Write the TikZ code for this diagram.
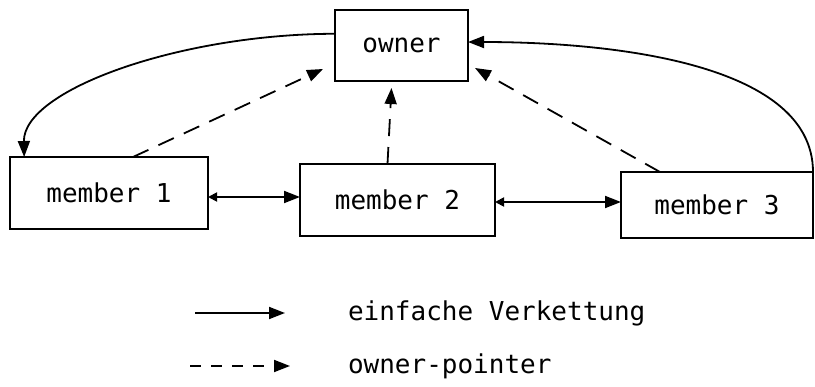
\documentclass[tikz,border=0pt]{standalone}
\usepackage{fontspec}
\setmonofont{DejaVu Sans Mono}
\usetikzlibrary{arrows.meta,calc}

\begin{document}
\begin{tikzpicture}[x=1pt, y=-1pt, >={Triangle[length=16pt,width=12pt]},
  every node/.style={draw, line width=1.8pt, inner sep=0pt, outer sep=0pt, font=\ttfamily\fontsize{26}{30}\selectfont},
  kette/.style={line width=1.8pt, ->},
  zeiger/.style={kette, dash pattern=on 17pt off 11pt},
  legende/.style={draw=none, anchor=west}]
\useasboundingbox (0,0) rectangle (815,387);

\node[minimum width=133pt, minimum height=71pt] (owner) at (401.5,45.5) {owner};
\node[minimum width=198pt, minimum height=72pt] (m1) at (109,193) {member 1};
\node[minimum width=195pt, minimum height=72pt] (m2) at (397.5,200) {member 2};
\node[minimum width=192pt, minimum height=66pt] (m3) at (717,205) {member 3};

% einfache Verkettung
\draw[kette, {Triangle[length=9pt,width=9pt]}->] ([yshift=-4pt]m1.east) -- ([yshift=-4pt]m1.east -| m2.west);
\draw[kette, {Triangle[length=9pt,width=9pt]}->] ([yshift=-2pt]m2.east) -- ([yshift=-2pt]m2.east -| m3.west);
\draw[kette] (owner.170) .. controls (180,34) and (23,90) .. (m1.157);
\draw[kette] (m3.north east) .. controls (813,60) and (600,42) .. (owner.3);

% owner-pointer
\draw[zeiger] ([xshift=24pt]m1.north) -- ($(owner.south west)+(-12,-12)$);
\draw[zeiger] ([xshift=-10pt]m2.north) -- ([xshift=-10pt,yshift=-7pt]owner.south);
\draw[zeiger] ([xshift=-57pt]m3.north) -- ($(owner.south east)+(7,-13)$);

% Legende
\coordinate (k1) at (195,313);
\coordinate (k2) at (285,313);
\coordinate (z1) at (190,366);
\coordinate (z2) at (290,366);
\draw[kette] (k1) -- (k2);
\draw[zeiger, dash pattern=on 11pt off 10pt] (z1) -- (z2);
\node[legende] (tk) at (348,313) {einfache Verkettung};
\node[legende] (tz) at (348,366) {owner-pointer};
\end{tikzpicture}
\end{document}
